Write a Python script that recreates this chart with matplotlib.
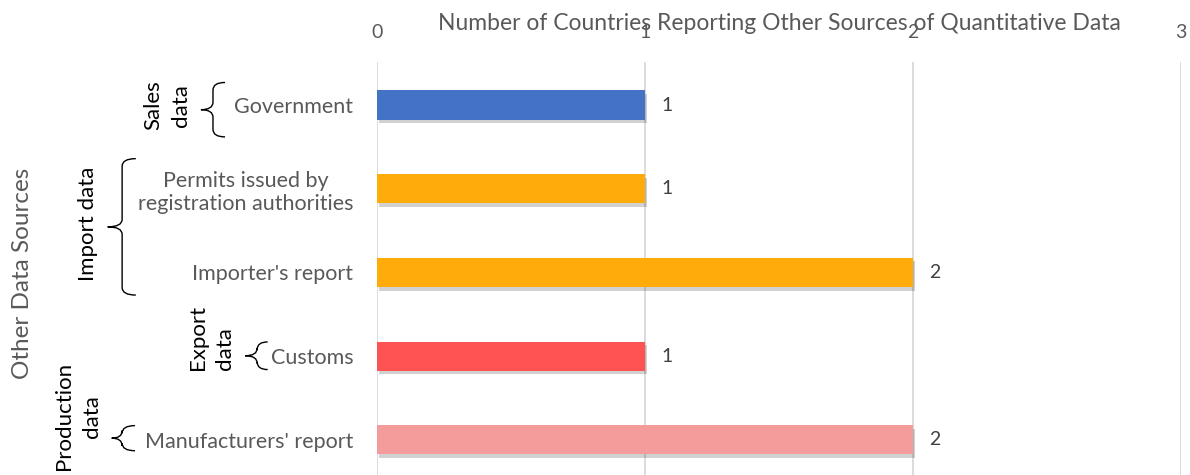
import matplotlib
matplotlib.use("Agg")
import matplotlib.pyplot as plt
import matplotlib.patheffects as pe
from matplotlib.path import Path
from matplotlib.patches import PathPatch

plt.rcParams["font.family"] = ["Lato", "DejaVu Sans"]

# ── data ──────────────────────────────────────────────────────────────────────
SOURCES = [
    "Government",
    "Permits issued by\nregistration authorities",
    "Importer's report",
    "Customs",
    "Manufacturers' report",
]
COUNTS = [1, 1, 2, 1, 2]
COLORS = ["#4472C4", "#FFAB0A", "#FFAB0A", "#FF5252", "#F49C9C"]

# group name, first and last category index
GROUPS = [
    ("Sales\ndata", 0, 0),
    ("Import data", 1, 2),
    ("Export\ndata", 3, 3),
    ("Production\ndata", 4, 4),
]

TITLE = "Number of Countries Reporting Other Sources of Quantitative Data"
XTICKS = [0, 1, 2, 3]

GREY = "#595959"
GRID = "#D9D9D9"

# ── figure ────────────────────────────────────────────────────────────────────
fig = plt.figure(figsize=(11.9, 4.75), dpi=100)
ax = fig.add_axes([0.3168, 0.0, 0.6756, 0.8695])

y = list(range(len(SOURCES)))
shadow = [pe.SimplePatchShadow(offset=(1.5, -2.5), shadow_rgbFace="#000000", alpha=0.18), pe.Normal()]
bars = ax.barh(y, COUNTS, height=0.35, color=COLORS, zorder=3)
for b in bars:
    b.set_path_effects(shadow)

for yi, v in zip(y, COUNTS):
    ax.annotate(str(v), (v, yi), xytext=(12, 0), textcoords="offset points",
                ha="left", va="center", fontsize=14, color="#404040")

ax.set_xlim(0, 3)
ax.set_ylim(4.42, -0.515)
ax.set_xticks(XTICKS)
ax.xaxis.tick_top()
ax.tick_params(axis="x", length=0, pad=15, labelsize=14, labelcolor=GREY)
ax.grid(axis="x", color=GRID, linewidth=1.3, zorder=0)
ax.set_yticks(y)
ax.set_yticklabels(SOURCES, fontsize=15.5, color=GREY, multialignment="center")
ax.tick_params(axis="y", length=0, pad=17)
for s in ax.spines.values():
    s.set_visible(False)

fig.text(0.6546, 0.95, TITLE, ha="center", va="center", fontsize=16.5, color=GREY)
fig.text(0.019, 0.425, "Other Data Sources", rotation=90, ha="center", va="center",
         fontsize=17.5, color=GREY)

# ── category group braces ─────────────────────────────────────────────────────
tr = ax.get_yaxis_transform()


def brace(x_line, x_tip, x_end, y0, y1, r=0.09):
    ym = (y0 + y1) / 2
    verts = [
        (x_end, y0), (x_line, y0), (x_line, y0 + r),
        (x_line, ym - r), (x_line, ym), (x_tip, ym),
        (x_line, ym), (x_line, ym + r),
        (x_line, y1 - r), (x_line, y1), (x_end, y1),
    ]
    codes = [Path.MOVETO, Path.CURVE3, Path.CURVE3,
             Path.LINETO, Path.CURVE3, Path.CURVE3,
             Path.CURVE3, Path.CURVE3,
             Path.LINETO, Path.CURVE3, Path.CURVE3]
    ax.add_patch(PathPatch(Path(verts, codes), transform=tr, fill=False,
                           edgecolor="black", linewidth=1.0, clip_on=False))


# brace x positions (axes fraction) and label placement per group
BRACE_X = [(-0.204, -0.219, -0.189), (-0.317, -0.335, -0.300),
           (-0.149, -0.164, -0.136), (-0.317, -0.330, -0.301)]
BRACE_PAD = [(0.27, 0.38), (0.36, 0.27), (0.17, 0.16), (0.17, 0.13)]
LABEL_X = [-0.261, -0.359, -0.206, -0.372]
LABEL_DY = [0.0, -0.08, -0.22, -0.28]
LABEL_ALIGN = ["center", "center", "left", "center"]

for (name, i0, i1), bx, pad, lx, dy, al in zip(GROUPS, BRACE_X, BRACE_PAD, LABEL_X, LABEL_DY, LABEL_ALIGN):
    brace(bx[0], bx[1], bx[2], i0 - pad[0], i1 + pad[1])
    ax.text(lx, (i0 + i1) / 2 + dy, name, transform=tr, rotation=90,
            ha="center", va="center", fontsize=16, color="black",
            multialignment=al, linespacing=1.45)

fig.savefig("out.png", dpi=100)
